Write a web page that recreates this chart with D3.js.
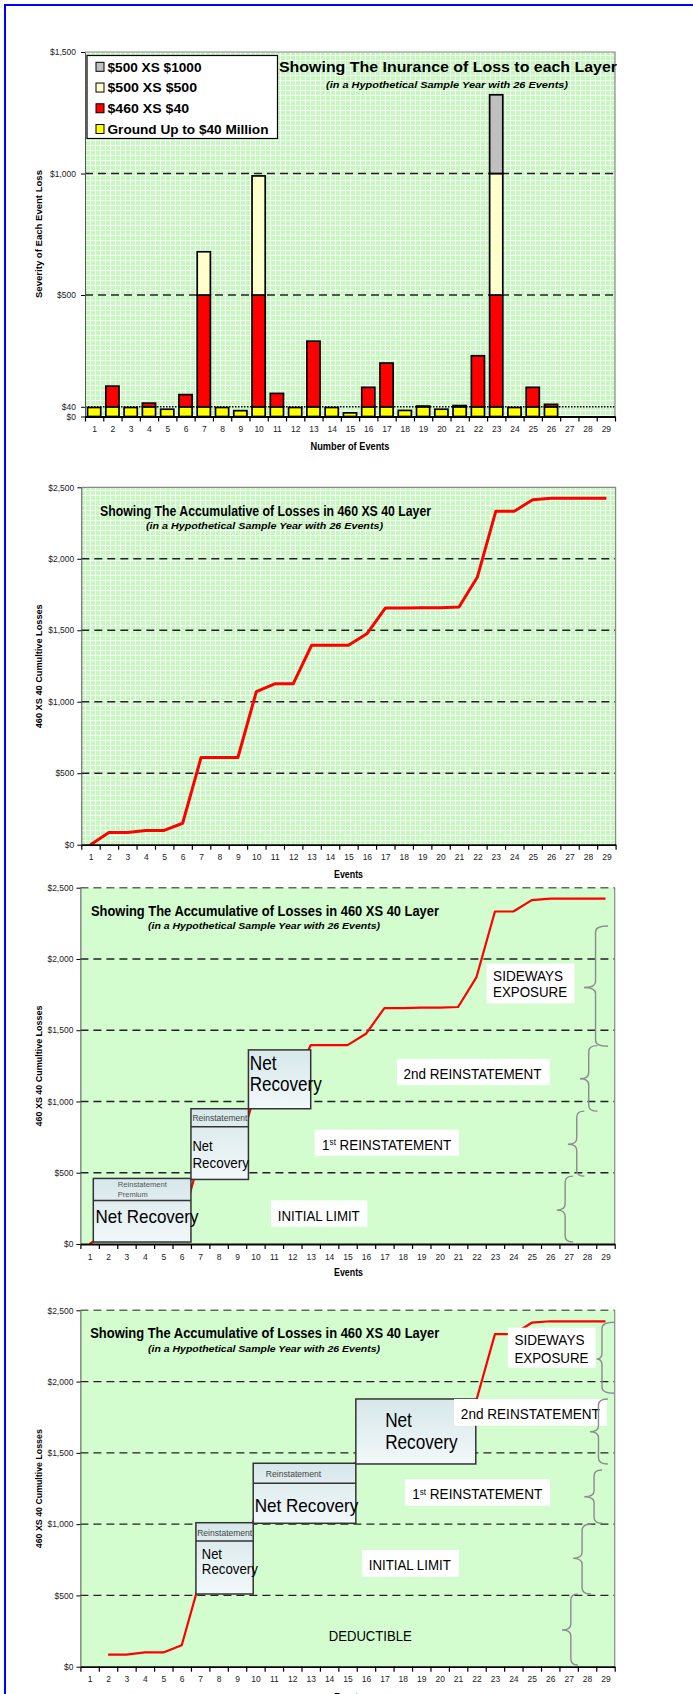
<!DOCTYPE html>
<html><head><meta charset="utf-8">
<script src="https://cdn.jsdelivr.net/npm/d3@7"></script>
<style>html,body{margin:0;padding:0;background:#fff;}svg{display:block;}</style>
</head><body>
<svg id="chart" width="693" height="1694"></svg>
<script>
// ---------------- data ----------------
const eventLabels = ["1","2","3","4","5","6","7","8","9","10","11","12","13","14","15","16","17","18","19","20","21","22","23","24","25","26","27","28","29"];
const eventNumbers = [1,2,3,4,5,6,7,8,9,10,11,12,13,14,15,16,17,18,19,20,21,22,23,24,25,26,27,28,29];
const legendLabels = ["$500 XS $1000","$500 XS $500","$460 XS $40","Ground Up to $40 Million"];
const groundUp       = [37,40,37,40,30,40,40,37,24,40,40,37,40,37,15,40,40,25,40,30,40,40,40,37,40,40,0,0,0];
const layer460xs40   = [0,85,0,15,0,50,460,0,0,460,55,0,270,0,0,80,180,0,3,0,5,210,460,0,80,10,0,0,0];
const layer500xs500  = [0,0,0,0,0,0,178,0,0,490,0,0,0,0,0,0,0,0,0,0,0,0,500,0,0,0,0,0,0];
const layer500xs1000 = [0,0,0,0,0,0,0,0,0,0,0,0,0,0,0,0,0,0,0,0,0,0,324,0,0,0,0,0,0];
const cumulativeLosses = [0,85,85,100,100,150,610,610,610,1070,1125,1125,1395,1395,1395,1475,1655,1655,1658,1658,1663,1873,2333,2333,2413,2423,2423,2423,2423];
const cumulativeFrom2  = [null,85,85,100,100,150,610,610,610,1070,1125,1125,1395,1395,1395,1475,1655,1655,1658,1658,1663,1873,2333,2333,2413,2423,2423,2423,2423];
const severityTicks = [0,40,500,1000,1500];
const severityGrid = [500,1000];
const cumulativeTicks = [0,500,1000,1500,2000,2500];
const cumulativeGrid = [500,1000,1500,2000];
const titles = {
  c1: ["Showing The Inurance of Loss to each Layer","(in a Hypothetical Sample Year with 26 Events)"],
  c2: ["Showing The Accumulative of Losses in 460 XS 40 Layer","(in a Hypothetical Sample Year with 26 Events)"]
};
// annotation shapes in data units (event, $)
const c3Recovery = [
  {x0:1.2, x1:6.5, v0:14, v1:460, split:306,
   texts:[{t:"Reinstatement",e:2.53,v:418,s:8,len:49,c:"#555"},{t:"Premium",e:2.53,v:350,s:8,len:30,c:"#555"},{t:"Net Recovery",e:1.32,v:191,s:19,len:103}]},
  {x0:6.5, x1:9.62, v0:453, v1:949, split:823,
   texts:[{t:"Reinstatement",e:6.58,v:883,s:9,len:55,c:"#444"},{t:"Net",e:6.58,v:690,s:15},{t:"Recovery",e:6.58,v:569,s:15,len:56.5}]},
  {x0:9.62, x1:13.0, v0:949, v1:1362, split:null,
   texts:[{t:"Net",e:9.69,v:1268,s:20},{t:"Recovery",e:9.69,v:1124,s:20,len:72}]}
];
const c4Recovery = [
  {x0:6.77, x1:9.88, v0:510, v1:1010, split:882,
   texts:[{t:"Reinstatement",e:6.84,v:938,s:9,len:55,c:"#444"},{t:"Net",e:7.09,v:795,s:15},{t:"Recovery",e:7.09,v:685,s:15,len:56}]},
  {x0:9.88, x1:15.45, v0:1006, v1:1427, split:1286,
   texts:[{t:"Reinstatement",e:10.56,v:1354,s:9,len:55.5,c:"#444"},{t:"Net Recovery",e:9.96,v:1132,s:19,len:103.5}]},
  {x0:15.45, x1:21.96, v0:1422, v1:1878, split:null,
   texts:[{t:"Net",e:17.04,v:1731,s:20},{t:"Recovery",e:17.04,v:1578,s:20,len:72.5}]}
];
const c3Labels = [
  {box:[22.55,27.32,1688,1968], lines:[{t:"SIDEWAYS",e:22.9,v:1880,len:70},{t:"EXPOSURE",e:22.9,v:1772,len:74}]},
  {box:[17.69,25.97,1114,1299], lines:[{t:"2nd REINSTATEMENT",e:18.04,v:1198,len:138}]},
  {box:[13.21,21.05,618,802], lines:[{t:"1st",e:13.62,v:700,len:129}]},
  {box:[10.85,16.08,121,306], lines:[{t:"INITIAL LIMIT",e:11.21,v:201,len:82}]}
];
const c4Labels = [
  {box:[23.7,28.47,2097,2378], lines:[{t:"SIDEWAYS",e:24.06,v:2292,len:70},{t:"EXPOSURE",e:24.06,v:2170,len:74}]},
  {box:[20.78,29.07,1690,1878], lines:[{t:"2nd REINSTATEMENT",e:21.15,v:1777,len:139}]},
  {box:[18.11,25.99,1129,1315], lines:[{t:"1st",e:18.51,v:1211,len:130}]},
  {box:[15.79,21.05,631,819], lines:[{t:"INITIAL LIMIT",e:16.15,v:713,len:82}]},
  {box:null, lines:[{t:"DEDUCTIBLE",e:13.98,v:220,len:83}]}
];
const c3Braces = [
  {tip:27.83,mid:28.46,end:29.14,top:2231,at:1800,bot:1387},
  {tip:27.61,mid:28.09,end:28.57,top:1392,at:1159,bot:932},
  {tip:26.96,mid:27.44,end:27.85,top:932,at:700,bot:476},
  {tip:26.35,mid:26.81,end:27.24,top:476,at:238,bot:14}
];
const c4Braces = [
  {tip:28.52,mid:28.81,end:29.49,top:2416,at:2158,bot:1918},
  {tip:28.16,mid:28.62,end:29.13,top:1878,at:1648,bot:1422},
  {tip:27.85,mid:28.38,end:28.81,top:1380,at:1192,bot:1006},
  {tip:27.24,mid:27.73,end:28.21,top:999,at:760,bot:510},
  {tip:26.64,mid:27.12,end:27.49,top:510,at:257,bot:12}
];

// ---------------- drawing ----------------
const FONT = "'Liberation Sans', Arial, sans-serif";
const svg = d3.select("#chart");
const defs = svg.append("defs");
const pat = defs.append("pattern").attr("id","gridpat").attr("patternUnits","userSpaceOnUse").attr("width",5).attr("height",5);
pat.append("rect").attr("width",5).attr("height",5).attr("fill","#c6f7c0");
pat.append("path").attr("d","M0,0.5H5M0.5,0V5").attr("stroke","#f4fff2").attr("stroke-width",1);
const grad = defs.append("linearGradient").attr("id","boxgrad").attr("x1",0).attr("y1",0).attr("x2",0).attr("y2",1);
grad.append("stop").attr("offset","0%").attr("stop-color","#d6e7ea");
grad.append("stop").attr("offset","100%").attr("stop-color","#f2f8f9");

svg.append("rect").attr("x",5).attr("y",5).attr("width",740).attr("height",1740)
  .attr("fill","none").attr("stroke","#0000ff").attr("stroke-width",2);

function fit(sel, len){ if(len) sel.attr("textLength",len).attr("lengthAdjust","spacingAndGlyphs"); return sel; }
function condense(sel, k){ const w = sel.node().getComputedTextLength(); return fit(sel, w*k); }

function panel(o){
  const x = d3.scaleLinear().domain([0.5,29.5]).range([o.left,o.right]);
  const xp = d3.scalePoint().domain(eventLabels).range([o.left,o.right]).padding(0.5);
  const y = d3.scaleLinear().domain([0,o.max]).range([o.bottom,o.top]);
  const g = svg.append("g");
  g.append("rect").attr("x",o.left).attr("y",o.top).attr("width",o.right-o.left).attr("height",o.bottom-o.top).attr("fill",o.fill);
  g.selectAll("line.grid").data(o.grid).join("line").attr("class","grid")
    .attr("x1",o.left).attr("x2",o.right).attr("y1",d=>y(d)).attr("y2",d=>y(d))
    .attr("stroke","#222").attr("stroke-width",1.4).attr("stroke-dasharray","8,5");
  return {g,x,xp,y,o};
}
function axes(p){
  const o = p.o, g = svg.append("g");
  g.append("path").attr("d", o.dashTop ? `M${o.right},${o.top}V${o.bottom}` : `M${o.left},${o.top}H${o.right}V${o.bottom}`)
    .attr("fill","none").attr("stroke","#888").attr("stroke-width",1.2);
  if(o.dashTop){
    g.append("line").attr("x1",o.left).attr("x2",o.right).attr("y1",o.top).attr("y2",o.top)
      .attr("stroke","#666").attr("stroke-width",1.4).attr("stroke-dasharray","8,5");
  }
  const ya = g.append("g").attr("transform",`translate(${o.left},0)`)
    .call(d3.axisLeft(p.y).tickValues(o.ticks).tickFormat(d=>"$"+d3.format(",")(d)).tickSize(4).tickSizeOuter(0).tickPadding(o.tickPad));
  ya.attr("font-family",FONT).attr("font-size",8.5);
  ya.selectAll("text").attr("fill","#222");
  ya.select(".domain").attr("stroke","#555");
  const xt = g.append("g").attr("transform",`translate(0,${o.bottom})`)
    .call(d3.axisBottom(p.x).tickValues(d3.range(0.5,30,1)).tickFormat("").tickSize(5).tickSizeOuter(0));
  xt.select(".domain").attr("stroke","#000").attr("stroke-width",1.8);
  xt.selectAll(".tick line").attr("stroke","#000").attr("stroke-width",1.2);
  const xl = g.append("g").attr("transform",`translate(0,${o.bottom})`)
    .call(d3.axisBottom(p.xp).tickSize(0).tickPadding(9.5));
  xl.attr("font-family",FONT).attr("font-size",8.5);
  xl.selectAll("text").attr("fill","#222");
  xl.select(".domain").remove();
  g.append("text").attr("transform",`translate(39,${o.yTitleY}) rotate(-90)`).attr("text-anchor","middle").attr("dy","0.35em")
    .attr("font-family",FONT).attr("font-weight","bold").attr("font-size",9).text(o.yTitle)
    .call(s=>fit(s,o.yTitleLen));
  g.append("text").attr("x",o.xTitleX).attr("y",o.xTitleY).attr("text-anchor","middle").attr("dy","0.35em")
    .attr("font-family",FONT).attr("font-weight","bold").attr("font-size",10).text(o.xTitle)
    .call(s=>fit(s,o.xTitleLen));
}
function title(t, x, y, size, len){
  return svg.append("text").attr("x",x).attr("y",y).attr("dy","0.35em").attr("font-family",FONT)
    .attr("font-weight","bold").attr("font-size",size).text(t).call(s=>fit(s,len));
}
function subtitle(t, x, y, len){
  return svg.append("text").attr("x",x).attr("y",y).attr("dy","0.35em").attr("font-family",FONT)
    .attr("font-weight","bold").attr("font-style","italic").attr("font-size",9.5).text(t).call(s=>fit(s,len));
}

// ===== Chart 1 : stacked bars =====
const p1 = panel({left:85,right:615,top:52,bottom:416.5,max:1500,fill:"url(#gridpat)",grid:severityGrid,
  ticks:severityTicks,tickPad:5});
const xb = d3.scaleBand().domain(eventLabels).range([85,615]).paddingInner(0.28).paddingOuter(0.14);
const table = eventLabels.map((e,i)=>({e, g:groundUp[i], r:layer460xs40[i], c:layer500xs500[i], k:layer500xs1000[i]}));
const keys = ["g","r","c","k"];
const colors = {g:"#ffff00", r:"#ff0000", c:"#ffffcc", k:"#c0c0c0"};
const stacked = d3.stack().keys(keys)(table);
p1.g.selectAll("g.layer").data(stacked).join("g").attr("class","layer").attr("fill",d=>colors[d.key])
  .selectAll("rect").data(d=>d.filter(s=>s[1]-s[0]>0)).join("rect")
  .attr("x",d=>xb(d.data.e)).attr("width",xb.bandwidth())
  .attr("y",d=>p1.y(d[1])).attr("height",d=>p1.y(d[0])-p1.y(d[1]))
  .attr("stroke","#000").attr("stroke-width",1.7);
p1.g.append("line").attr("x1",85).attr("x2",615).attr("y1",p1.y(severityTicks[1])).attr("y2",p1.y(severityTicks[1]))
  .attr("stroke","#000").attr("stroke-width",1.5).attr("stroke-dasharray","1.5,1.5");
p1.o.yTitle="Severity of Each Event Loss"; p1.o.yTitleY=234; p1.o.yTitleLen=128;
p1.o.xTitle="Number of Events"; p1.o.xTitleX=350; p1.o.xTitleY=446.7; p1.o.xTitleLen=79;
axes(p1);
title(titles.c1[0], 279, 66.7, 15, 338);
subtitle(titles.c1[1], 326, 84.3, 242);
// legend
const lg = svg.append("g");
lg.append("rect").attr("x",87).attr("y",55.5).attr("width",190.5).attr("height",83).attr("fill","#fff").attr("stroke","#000").attr("stroke-width",1.2);
const legendKeys = ["k","c","r","g"];
const legendLens = [94,89.6,81.6,161];
const legendY = d3.scalePoint().domain(legendLabels).range([66.8,129]);
lg.selectAll("rect.sw").data(legendLabels).join("rect").attr("class","sw")
  .attr("x",96).attr("y",d=>legendY(d)-4.5).attr("width",8).attr("height",9)
  .attr("fill",(d,i)=>colors[legendKeys[i]]).attr("stroke","#000").attr("stroke-width",1);
lg.selectAll("text").data(legendLabels).join("text").attr("x",107.5).attr("y",d=>legendY(d)).attr("dy","0.36em")
  .attr("font-family",FONT).attr("font-weight","bold").attr("font-size",13.5).text(d=>d)
  .attr("textLength",(d,i)=>legendLens[i]).attr("lengthAdjust","spacingAndGlyphs");

// ===== Line chart helper =====
function lineChart(o, values, lineW){
  const p = panel(o);
  const line = d3.line().defined(d=>d.v!=null).x(d=>p.x(d.e)).y(d=>p.y(d.v));
  const pts = eventNumbers.map((e,i)=>({e, v:values[i]}));
  p.g.append("path").datum(pts).attr("d",line).attr("fill","none").attr("stroke","#ff0000")
    .attr("stroke-width",lineW).attr("stroke-linejoin","round");
  return p;
}
function recoveryBoxes(p, boxes){
  const g = svg.append("g");
  boxes.forEach(b=>{
    g.append("rect").attr("x",p.x(b.x0)).attr("y",p.y(b.v1)).attr("width",p.x(b.x1)-p.x(b.x0))
      .attr("height",p.y(b.v0)-p.y(b.v1)).attr("fill","url(#boxgrad)").attr("stroke","#333").attr("stroke-width",1.5);
    if(b.split!=null){
      g.append("line").attr("x1",p.x(b.x0)).attr("x2",p.x(b.x1)).attr("y1",p.y(b.split)).attr("y2",p.y(b.split))
        .attr("stroke","#333").attr("stroke-width",1.5);
    }
    b.texts.forEach(t=>{
      const s = g.append("text").attr("x",p.x(t.e)).attr("y",p.y(t.v)).attr("dy","0.35em")
        .attr("font-family",FONT).attr("font-size",t.s).attr("fill",t.c||"#000").text(t.t);
      if(t.len) fit(s,t.len); else condense(s,0.86);
    });
  });
}
function labels(p, list){
  const g = svg.append("g");
  list.forEach(l=>{
    if(l.box){
      g.append("rect").attr("x",p.x(l.box[0])).attr("y",p.y(l.box[3])).attr("width",p.x(l.box[1])-p.x(l.box[0]))
        .attr("height",p.y(l.box[2])-p.y(l.box[3])).attr("fill","#fff");
    }
    l.lines.forEach(t=>{
      const s = g.append("text").attr("x",p.x(t.e)).attr("y",p.y(t.v)).attr("dy","0.36em")
        .attr("font-family",FONT).attr("font-size",15).attr("fill","#000");
      if(t.t==="1st"){
        s.append("tspan").text("1");
        s.append("tspan").attr("font-size",9).attr("dy","-0.55em").text("st");
        s.append("tspan").attr("dy","0.33em").text(" REINSTATEMENT");
      } else s.text(t.t);
      fit(s,t.len);
    });
  });
}
function braces(p, list){
  const g = svg.append("g");
  list.forEach(b=>{
    const xt=p.x(b.tip), xv=p.x(b.mid), xe=p.x(b.end), yt=p.y(b.top), ym=p.y(b.at), yb=p.y(b.bot);
    const r=6;
    g.append("path").attr("d",`M${xe},${yt} Q${xv},${yt} ${xv},${yt+r} L${xv},${ym-r} Q${xv},${ym} ${xt},${ym} Q${xv},${ym} ${xv},${ym+r} L${xv},${yb-r} Q${xv},${yb} ${xe},${yb}`)
      .attr("fill","none").attr("stroke","#8c8c8c").attr("stroke-width",1.4);
  });
}

// ===== Chart 2 =====
const common = {max:2500,ticks:cumulativeTicks,tickPad:3,yTitle:"460 XS 40 Cumultive Losses",xTitle:"Events",xTitleX:348.5,xTitleLen:29};
const p2 = lineChart(Object.assign({left:81.3,right:615.6,top:487.3,bottom:844.7,fill:"url(#gridpat)",grid:cumulativeGrid,
  yTitleY:666.3,yTitleLen:124,xTitleY:874},common), cumulativeLosses, 3);
axes(p2);
title(titles.c2[0], 100, 510.7, 14.5, 331);
subtitle(titles.c2[1], 146, 526, 237);

// ===== Chart 3 =====
const p3 = lineChart(Object.assign({left:80.4,right:614.7,top:887.7,bottom:1244,fill:"#d3fccf",grid:cumulativeGrid,dashTop:true,
  yTitleY:1066,yTitleLen:121,xTitleY:1272.7},common), cumulativeLosses, 2.2);
recoveryBoxes(p3, c3Recovery);
labels(p3, c3Labels);
braces(p3, c3Braces);
axes(p3);
title(titles.c2[0], 91, 910.7, 14.5, 348);
subtitle(titles.c2[1], 148, 926, 232);

// ===== Chart 4 =====
const p4 = lineChart(Object.assign({left:80.4,right:614.7,top:1310.3,bottom:1666.7,fill:"#d3fccf",grid:cumulativeGrid,dashTop:true,
  yTitleY:1488.7,yTitleLen:119,xTitleY:1697},common), cumulativeFrom2, 2.2);
recoveryBoxes(p4, c4Recovery);
labels(p4, c4Labels);
braces(p4, c4Braces);
axes(p4);
title(titles.c2[0], 90.2, 1333.3, 14.5, 349);
subtitle(titles.c2[1], 148, 1348.3, 232);
</script>
</body></html>
